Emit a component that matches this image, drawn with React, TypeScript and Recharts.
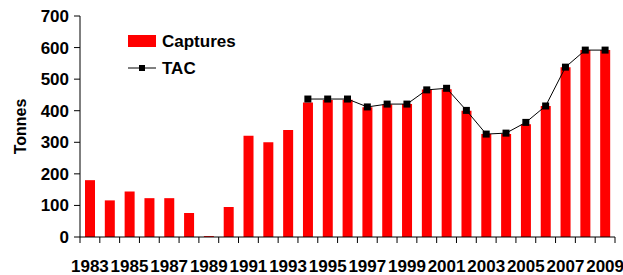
import React from "react";
import { ComposedChart, Bar, Line, XAxis, YAxis } from "recharts";

const years = [
  "1983", "1984", "1985", "1986", "1987", "1988", "1989", "1990", "1991",
  "1992", "1993", "1994", "1995", "1996", "1997", "1998", "1999", "2000",
  "2001", "2002", "2003", "2004", "2005", "2006", "2007", "2008", "2009",
];
const captures = [
  180, 116, 144, 123, 123, 76, 3, 95, 321, 300, 339, 426, 434, 435, 411,
  420, 421, 467, 468, 400, 326, 326, 357, 415, 538, 592, 592,
];
const tac = [
  null, null, null, null, null, null, null, null, null, null, null, 437, 437,
  437, 412, 421, 421, 466, 471, 401, 326, 329, 363, 415, 538, 592, 592,
];
const yTicks = [0, 100, 200, 300, 400, 500, 600, 700];

const data = years.map((y, i) => ({ year: y, captures: captures[i], tac: tac[i] }));

const FONT = "'Liberation Sans', Arial, sans-serif";

const YearTick = (props: any) => {
  const { x, y, payload, index } = props;
  const half = payload.offset ?? 535 / 27 / 2;
  const last = index === years.length - 1;
  return (
    <g>
      <line x1={x - half} x2={x - half} y1={y - 8} y2={y - 2} stroke="#000" />
      {last && <line x1={x + half} x2={x + half} y1={y - 8} y2={y - 2} stroke="#000" />}
      {index % 2 === 0 && (
        <text
          x={x}
          y={y + 27}
          textAnchor="middle"
          fontFamily={FONT}
          fontWeight="bold"
          fontSize={17}
          fill="#000"
        >
          {payload.value}
        </text>
      )}
    </g>
  );
};

const SquareDot = (props: any) => {
  const { cx, cy, value } = props;
  if (value == null || cx == null || cy == null) return null;
  return <rect x={cx - 3.5} y={cy - 3.5} width={7} height={7} fill="#000" />;
};

const LegendBox = () => (
  <svg
    width={160}
    height={50}
    style={{ position: "absolute", left: 128, top: 32, fontFamily: FONT }}
  >
    <rect x={0} y={3} width={28} height={12} fill="#ff0000" />
    <text x={34} y={15} fontSize={17} fontWeight="bold" fill="#000">
      Captures
    </text>
    <line x1={0} x2={28} y1={36} y2={36} stroke="#000" />
    <rect x={11} y={33} width={6} height={6} fill="#000" />
    <text x={34} y={42} fontSize={17} fontWeight="bold" fill="#000">
      TAC
    </text>
  </svg>
);

export default function App() {
  return (
    <div style={{ position: "absolute", left: 0, top: 0, width: 623, height: 275, background: "#fff" }}>
      <ComposedChart
        width={623}
        height={275}
        data={data}
        margin={{ top: 16, right: 8, bottom: 8, left: 0 }}
        barGap={0}
      >
        <XAxis
          dataKey="year"
          interval={0}
          tick={<YearTick />}
          tickLine={false}
          axisLine={{ stroke: "#000" }}
          height={30}
        />
        <YAxis
          domain={[0, 700]}
          ticks={yTicks}
          width={80}
          tickSize={6}
          tickMargin={5}
          axisLine={{ stroke: "#000" }}
          tickLine={{ stroke: "#000" }}
          tick={{ fontFamily: FONT, fontWeight: "bold", fontSize: 17, fill: "#000" }}
          label={{
            content: (p: any) => {
              const vb = p.viewBox;
              const cy = vb.y + vb.height / 2;
              return (
                <text
                  x={26}
                  y={cy}
                  transform={`rotate(-90, 26, ${cy})`}
                  textAnchor="middle"
                  fontFamily={FONT}
                  fontWeight="bold"
                  fontSize={16}
                  fill="#000"
                >
                  Tonnes
                </text>
              );
            },
          }}
        />
        <Bar dataKey="captures" name="Captures" fill="#ff0000" barSize={10} isAnimationActive={false} />
        <Line
          dataKey="tac"
          name="TAC"
          stroke="#000"
          strokeWidth={1}
          dot={<SquareDot />}
          activeDot={false}
          connectNulls={false}
          isAnimationActive={false}
        />
      </ComposedChart>
      <LegendBox />
    </div>
  );
}
